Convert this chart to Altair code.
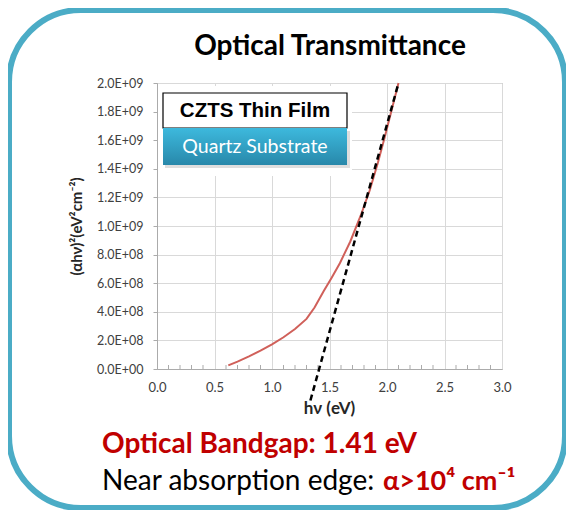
import altair as alt
import pandas as pd

# ---------------- data ----------------
X_TICKS = [0.0, 0.5, 1.0, 1.5, 2.0, 2.5, 3.0]
Y_TICKS = [0, 2e8, 4e8, 6e8, 8e8, 1.0e9, 1.2e9, 1.4e9, 1.6e9, 1.8e9, 2.0e9]
MINOR_X = [0.1, 0.2, 0.3, 0.4, 0.6, 0.7, 0.8, 0.9, 1.1, 1.2, 1.3, 1.4,
           1.6, 1.7, 1.8, 1.9, 2.1, 2.2, 2.3, 2.4, 2.6, 2.7, 2.8, 2.9]

CURVE_HV = [0.62, 0.70, 0.80, 0.90, 1.00, 1.10, 1.20, 1.30, 1.37, 1.45,
            1.52, 1.59, 1.68, 1.77, 1.85, 1.92, 1.98, 2.04, 2.10]
CURVE_Y = [2.5e7, 5.2e7, 8.8e7, 1.28e8, 1.72e8, 2.22e8, 2.8e8, 3.5e8, 4.3e8, 5.45e8,
           6.4e8, 7.4e8, 8.9e8, 1.07e9, 1.25e9, 1.44e9, 1.62e9, 1.81e9, 2.0e9]

FIT_HV = [1.334, 2.10]
FIT_Y = [-2.2e8, 2.0e9]

TITLE = "Optical Transmittance"
X_TITLE = "hν (eV)"
Y_TITLE = "(αhν)²(eV²cm⁻²)"
BOX_TOP = "CZTS Thin Film"
BOX_BOTTOM = "Quartz Substrate"
NOTE1 = "Optical Bandgap: 1.41 eV"
NOTE2A = "Near absorption edge: "
NOTE2B = "α>10⁴ cm⁻¹"

# ---------------- style ----------------
W, H = 345, 286
FONT = "Lato, 'Noto Sans', 'DejaVu Sans', sans-serif"
GRID = "#D9D9D9"
AXISC = "#ABABAB"
TEAL = "#4BACC6"
DARKRED = "#C00000"

e = "floor(log(datum.value)/LN10 + 1e-9)"
Y_LABEL_EXPR = (f"datum.value == 0 ? '0.0E+00' : format(datum.value / pow(10, {e}), '.1f')"
                f" + 'E+' + ({e} < 10 ? '0' : '') + {e}")

X_ENC = alt.X(
    "hv:Q",
    scale=alt.Scale(domain=[0, 3], nice=False),
    axis=alt.Axis(values=X_TICKS, format=".1f", grid=True, gridColor=GRID,
                  ticks=False, tickSize=0, domainColor=AXISC, labelFlush=False,
                  labelFont=FONT, labelFontSize=13, labelColor="#404040",
                  labelPadding=12, title=X_TITLE, titleFont=FONT, titleFontSize=17,
                  titleFontWeight="bold", titleColor="#262626",
                  titleX=172, titleY=39, titleBaseline="middle"),
)
Y_ENC = alt.Y(
    "val:Q",
    scale=alt.Scale(domain=[0, 2e9], nice=False),
    axis=alt.Axis(values=Y_TICKS, labelExpr=Y_LABEL_EXPR, grid=True, gridColor=GRID,
                  ticks=True, tickSize=4, tickColor=AXISC, domainColor=AXISC,
                  labelFlush=False,
                  labelFont=FONT, labelFontSize=12.5, labelColor="#404040",
                  labelPadding=10, title=Y_TITLE, titleFont=FONT, titleFontSize=15,
                  titleFontWeight="bold", titleColor="#262626", titleAngle=-90,
                  titleX=-81, titleY=143, titleBaseline="middle", titleAlign="center"),
)

one = alt.Data(values=[{"t": 0}])


def box(x, x2, y, y2, **kw):
    return alt.Chart(one).mark_rect(**kw).encode(
        x=alt.value(x), x2=alt.value(x2), y=alt.value(y), y2=alt.value(y2))


def label(text, x, y, size, color, weight="normal", font=FONT, align="center"):
    return alt.Chart(alt.Data(values=[{"t": text}])).mark_text(
        align=align, baseline="alphabetic", font=font, fontSize=size,
        fontWeight=weight, color=color).encode(
        text="t:N", x=alt.value(x), y=alt.value(y))


curve_df = pd.DataFrame({"hv": CURVE_HV, "val": CURVE_Y})
fit_df = pd.DataFrame({"hv": FIT_HV, "val": FIT_Y})
minor_df = pd.DataFrame({"hv": MINOR_X})

minor = alt.Chart(minor_df).mark_rule(color=AXISC, strokeWidth=1).encode(
    x=X_ENC, y=alt.value(H), y2=alt.value(H - 4))

curve = alt.Chart(curve_df).mark_line(color="#D0605A", strokeWidth=2).encode(
    x=X_ENC, y=Y_ENC)

fit = alt.Chart(fit_df).mark_line(color="black", strokeWidth=2.5,
                                  strokeDash=[6, 4]).encode(x=X_ENC, y=Y_ENC)

frame = box(-148, 408, -73, 425, fill="transparent", stroke=TEAL,
            strokeWidth=6, cornerRadius=72)
blank = box(1, 195, 3, 93, fill="white")
shadow = box(8, 193, 48, 85, fill="#C8C8C8", opacity=0.6)
white_box = box(6, 190, 10, 45, fill="white", stroke="black", strokeWidth=1.2)
teal_box = box(6, 190, 45, 82, fill={
    "gradient": "linear", "x1": 0, "y1": 0, "x2": 0, "y2": 1,
    "stops": [{"offset": 0, "color": "#3DB9DD"}, {"offset": 1, "color": "#2888AA"}]})

chart = alt.layer(
    minor,
    blank,
    shadow,
    white_box,
    teal_box,
    curve,
    fit,
    frame,
    label(TITLE, 173, -28, 28, "black", "bold"),
    label(BOX_TOP, 98, 34, 20.5, "black", "bold", font="'Liberation Sans', Arial, sans-serif"),
    label(BOX_BOTTOM, 98, 70, 19.5, "white"),
    label(NOTE1, -55, 370, 28, DARKRED, "bold", align="left"),
    label(NOTE2A, -55, 407, 28, "black", align="left"),
    label(NOTE2B, 226, 407, 27, DARKRED, "bold", align="left"),
).properties(
    width=W, height=H,
    autosize=alt.AutoSizeParams(type="none"),
    padding={"left": 149, "top": 75, "right": 64, "bottom": 141},
).configure_view(stroke=AXISC, strokeWidth=1)

chart.save("out.html", embed_options={"renderer": "svg", "actions": False})
